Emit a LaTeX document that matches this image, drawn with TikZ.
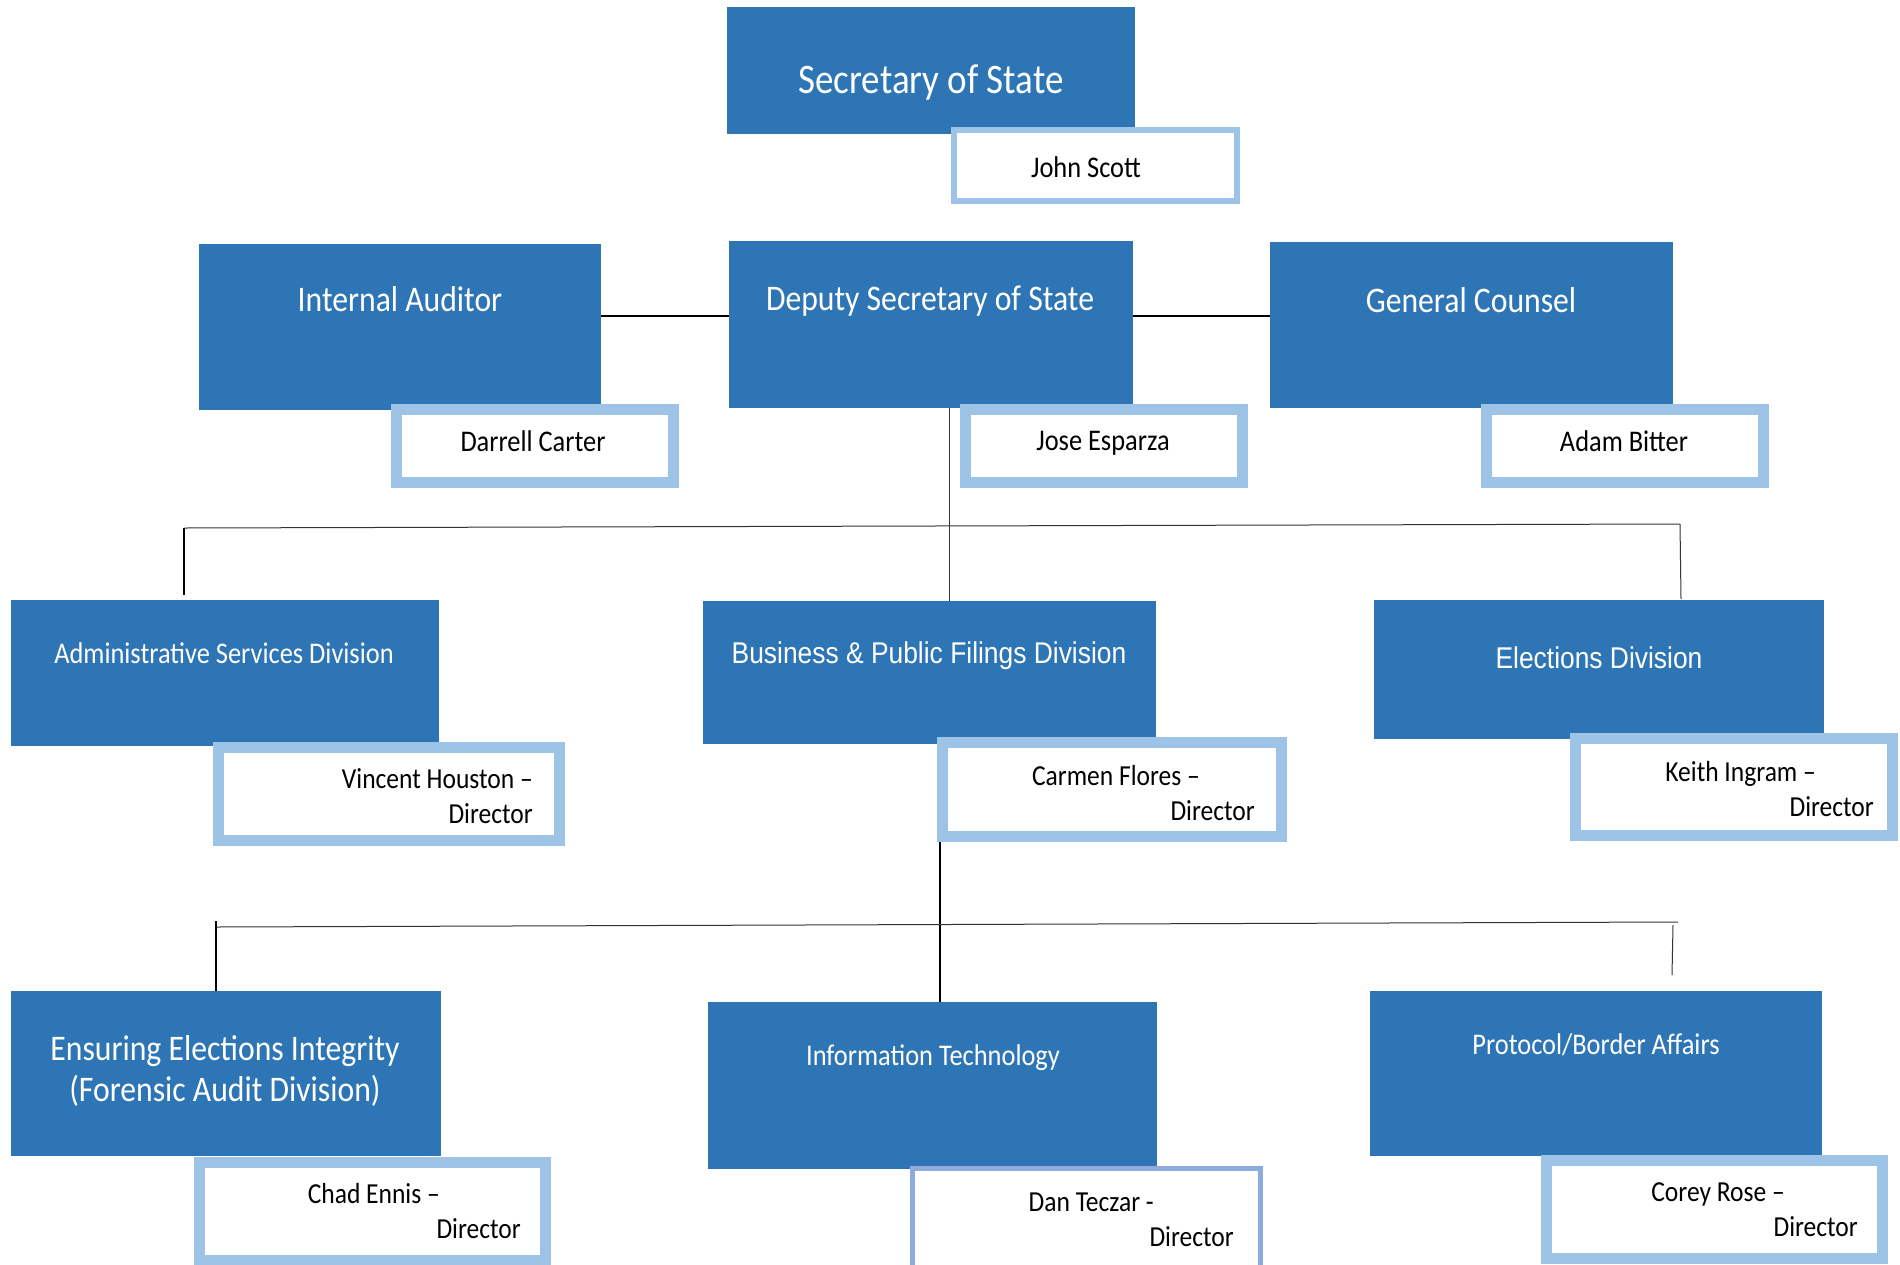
\documentclass[tikz,border=0pt]{standalone}
\usepackage{fontspec}
\setmainfont{Carlito}[FakeStretch=0.88]
\newfontfamily\arialfont{Liberation Sans}[FakeStretch=0.88]

\definecolor{boxblue}{RGB}{46,117,182}
\definecolor{nameblue}{RGB}{157,195,230}
\definecolor{danblue}{RGB}{143,170,220}

\tikzset{
  unitbox/.style={rectangle, fill=boxblue, draw=none, inner sep=0pt},
  namebox/.style={rectangle, fill=white, draw=nameblue, line width=11pt, inner sep=0pt},
  unittext/.style={text=white, inner sep=0pt, align=center},
  nametext/.style={text=black, inner sep=0pt, align=right,
    font=\fontsize{29}{35}\selectfont},
  link/.style={draw=black, line width=1.6pt},
  thinlink/.style={draw=black!80, line width=1pt},
}

\begin{document}
\begin{tikzpicture}[x=1pt,y=-1pt]
  \useasboundingbox[fill=white] (0,0) rectangle (1900,1264);
  \clip (0,0) rectangle (1900,1264);

  % top
  \node[unitbox, minimum width=408pt, minimum height=127pt] (sec) at (931,70.5) {};
  \node[namebox, line width=6pt, minimum width=283pt, minimum height=71pt] (john) at (1095.5,165.5) {};

  % second row
  \node[unitbox, minimum width=402pt, minimum height=166pt] (ia) at (400,327) {};
  \node[unitbox, minimum width=404pt, minimum height=167pt] (dep) at (931,324.5) {};
  \node[unitbox, minimum width=403pt, minimum height=166pt] (gc) at (1471.5,325) {};
  \node[namebox, minimum width=277pt, minimum height=73pt] (darrell) at (535,446) {};
  \node[namebox, minimum width=277pt, minimum height=73pt] (jose) at (1104,446) {};
  \node[namebox, minimum width=277pt, minimum height=73pt] (adam) at (1625,446) {};

  % divisions
  \node[unitbox, minimum width=428pt, minimum height=146pt] (adm) at (225,673) {};
  \node[unitbox, minimum width=453pt, minimum height=143pt] (bus) at (929.5,672.5) {};
  \node[unitbox, minimum width=450pt, minimum height=139pt] (ele) at (1599,669.5) {};
  \node[namebox, minimum width=341pt, minimum height=93pt] (vincent) at (389,794) {};
  \node[namebox, minimum width=339pt, minimum height=94pt] (carmen) at (1112,789.5) {};
  \node[namebox, minimum width=317pt, minimum height=97pt] (keith) at (1734,787) {};

  % bottom row
  \node[unitbox, minimum width=430pt, minimum height=165pt] (ens) at (226,1073.5) {};
  \node[unitbox, minimum width=449pt, minimum height=167pt] (it) at (932.5,1085.5) {};
  \node[unitbox, minimum width=452pt, minimum height=165pt] (prot) at (1596,1073.5) {};
  \node[namebox, minimum width=346pt, minimum height=98pt] (chad) at (372.5,1211.5) {};
  \node[namebox, draw=danblue, line width=5pt, minimum width=348pt, minimum height=129pt] (dan) at (1086.5,1233) {};
  \node[namebox, minimum width=336pt, minimum height=98pt] (corey) at (1714.5,1209.5) {};

  % titles
  \node[unittext, font=\fontsize{42}{50}\selectfont] (sec-t) at (931,82) {Secretary of State};
  \node[unittext, font=\fontsize{36}{42}\selectfont] (ia-t) at (400,299) {Internal Auditor};
  \node[unittext, font=\fontsize{36}{42}\selectfont] (dep-t) at (930,301) {Deputy Secretary of State};
  \node[unittext, font=\fontsize{36}{42}\selectfont] (gc-t) at (1471,300) {General Counsel};
  \node[unittext, font=\fontsize{30}{36}\selectfont] (adm-t) at (224,653) {Administrative Services Division};
  \node[unittext, font=\arialfont\fontsize{30}{36}\selectfont] (bus-t) at (929,656) {Business \& Public Filings Division};
  \node[unittext, font=\arialfont\fontsize{30}{36}\selectfont] (ele-t) at (1599,658) {Elections Division};
  \node[unittext, font=\fontsize{36}{41}\selectfont] (ens-t) at (225,1071) {Ensuring Elections Integrity\\(Forensic Audit Division)};
  \node[unittext, font=\fontsize{30}{36}\selectfont] (it-t) at (933,1058) {Information Technology};
  \node[unittext, font=\fontsize{30}{36}\selectfont] (prot-t) at (1596,1045) {Protocol/Border Affairs};

  % names
  \node[nametext, font=\fontsize{30}{35}\selectfont] (john-t) at (1086,167) {John Scott};
  \node[nametext, font=\fontsize{30}{35}\selectfont] (darrell-t) at (533,441) {Darrell Carter};
  \node[nametext, font=\fontsize{30}{35}\selectfont] (jose-t) at (1103,443) {Jose Esparza};
  \node[nametext, font=\fontsize{30}{35}\selectfont] (adam-t) at (1624,441) {Adam Bitter};
  \node[nametext, anchor=east] (vincent-t) at (533,796.5) {Vincent Houston --\\Director};
  \node[nametext, anchor=east] (carmen-t) at (1255,793) {Carmen Flores --\hspace*{55pt}\\Director};
  \node[nametext, anchor=east] (keith-t) at (1874,789) {Keith Ingram --\hspace*{58pt}\\Director};
  \node[nametext, anchor=east] (chad-t) at (521,1211.5) {Chad Ennis --\hspace*{81pt}\\Director};
  \node[nametext, anchor=east] (dan-t) at (1234,1220) {Dan Teczar -\hspace*{80pt}\\Director};
  \node[nametext, anchor=east] (corey-t) at (1858,1209.5) {Corey Rose --\hspace*{73pt}\\Director};

  % links beside the deputy
  \draw[link] ([yshift=11pt]ia.east) -- ([yshift=11pt]ia.east -| dep.west);
  \draw[link] ([yshift=9pt]gc.west) -- ([yshift=9pt]gc.west -| dep.east);

  % deputy down to the divisions
  \coordinate (bar1-l) at (184,528);
  \coordinate (bar1-r) at (1680,524);
  \coordinate (bar1-ld) at (184,595);
  \coordinate (bar1-rd) at (1681,599);
  \draw[thinlink] ([xshift=18pt]dep.south) -- ([xshift=18pt]dep.south |- bus.north);
  \draw[thinlink] (bar1-l) -- (bar1-r);
  \draw[link] (bar1-l) -- (bar1-ld);
  \draw[thinlink] (bar1-r) -- (bar1-rd);

  % business division down to the bottom row
  \coordinate (bar2-l) at (216,927);
  \coordinate (bar2-r) at (1678,922);
  \coordinate (bar2-rt) at (1673,925);
  \coordinate (bar2-rd) at (1672,975);
  \draw[link] ([xshift=-172pt]carmen.south) -- ([xshift=-172pt]carmen.south |- it.north);
  \draw[thinlink] (bar2-l) -- (bar2-r);
  \draw[link] ([yshift=6pt]bar2-l) -- (bar2-l |- ens.north);
  \draw[thinlink] (bar2-rt) -- (bar2-rd);
\end{tikzpicture}
\end{document}
